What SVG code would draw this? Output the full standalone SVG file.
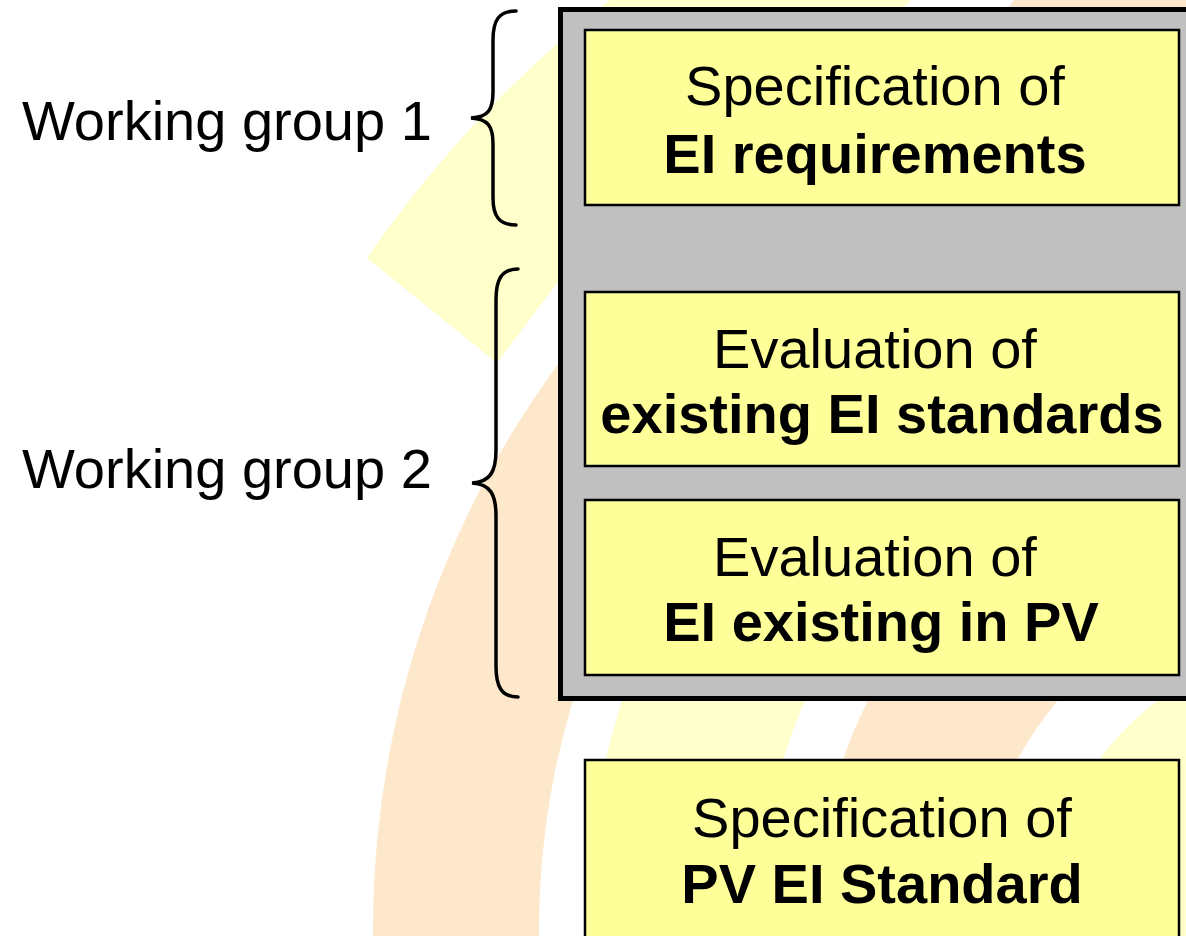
<svg xmlns="http://www.w3.org/2000/svg" width="1186" height="936" viewBox="0 0 1186 936">
  <style>
    .t { font-family: "Liberation Sans", Arial, Helvetica, sans-serif; font-size: 56px; fill: #000; }
    .c { text-anchor: middle; }
    .b { font-weight: bold; }
    .box { fill: #FFFF99; stroke: #000; stroke-width: 2.5; }
    .brace { fill: none; stroke: #000; stroke-width: 3.5; stroke-linecap: round; }
    .or { fill: #FEE8CB; }
    .ye { fill: #FFFFCC; }
  </style>
  <rect width="1186" height="936" fill="#fff"/>
  <g id="background">
    <!-- orange outer band -->
    <path class="or" fill-rule="evenodd" d="M373,930 A957,957 0 1 1 2287,930 A957,957 0 1 1 373,930 Z M539,930 A791,791 0 1 0 2121,930 A791,791 0 1 0 539,930 Z"/>
    <polygon class="or" points="1014,0 1186,0 1186,14 1004,14"/>
    <!-- yellow band -->
    <path class="ye" fill-rule="evenodd" d="M586,930 A744,744 0 1 1 2074,930 A744,744 0 1 1 586,930 Z M757,930 A573,573 0 1 0 1903,930 A573,573 0 1 0 757,930 Z"/>
    <!-- orange inner band -->
    <path class="or" fill-rule="evenodd" d="M814,930 A516,516 0 1 1 1846,930 A516,516 0 1 1 814,930 Z M974,930 A356,356 0 1 0 1686,930 A356,356 0 1 0 974,930 Z"/>
    <!-- yellow inner disk -->
    <circle class="ye" cx="1330" cy="930" r="287"/>
    <!-- top yellow band with cut end -->
    <path class="ye" d="M367,258 A1176,1176 0 0 1 610,0 L911,0 L890,20 L557,283 L497,363 Z"/>
  </g>
  <g id="group-box">
    <rect x="560.5" y="9.5" width="640" height="689" fill="#C0C0C0" stroke="#000" stroke-width="5"/>
  </g>
  <g id="node-ei-requirements">
    <rect class="box" x="585" y="30" width="594" height="175"/>
    <text class="t c" x="875" y="105">Specification of</text>
    <text class="t c b" x="875" y="173">EI requirements</text>
  </g>
  <g id="node-existing-standards">
    <rect class="box" x="585" y="292" width="594" height="174"/>
    <text class="t c" x="875" y="368">Evaluation of</text>
    <text class="t c b" x="882" y="433">existing EI standards</text>
  </g>
  <g id="node-existing-in-pv">
    <rect class="box" x="585" y="500" width="594" height="175"/>
    <text class="t c" x="875" y="576">Evaluation of</text>
    <text class="t c b" x="881" y="641">EI existing in PV</text>
  </g>
  <g id="node-pv-standard">
    <rect class="box" x="585" y="760" width="594" height="190"/>
    <text class="t c" x="882" y="837">Specification of</text>
    <text class="t c b" x="882" y="903">PV EI Standard</text>
  </g>
  <g id="label-wg1">
    <text class="t" x="22" y="140">Working group 1</text>
  </g>
  <g id="label-wg2">
    <text class="t" x="22" y="488">Working group 2</text>
  </g>
  <g id="connectors">
    <path class="brace" d="M516,11 C499,11 493,20 493,40 L493,92 C493,110 488,117 471,118 C488,119 493,126 493,144 L493,198 C493,216 499,225 516,225"/>
    <path class="brace" d="M518,269 C501,269 496,280 496,300 L496,450 C496,472 490,482 472,483 C490,484 496,494 496,516 L496,666 C496,686 501,697 518,697"/>
  </g>
</svg>
